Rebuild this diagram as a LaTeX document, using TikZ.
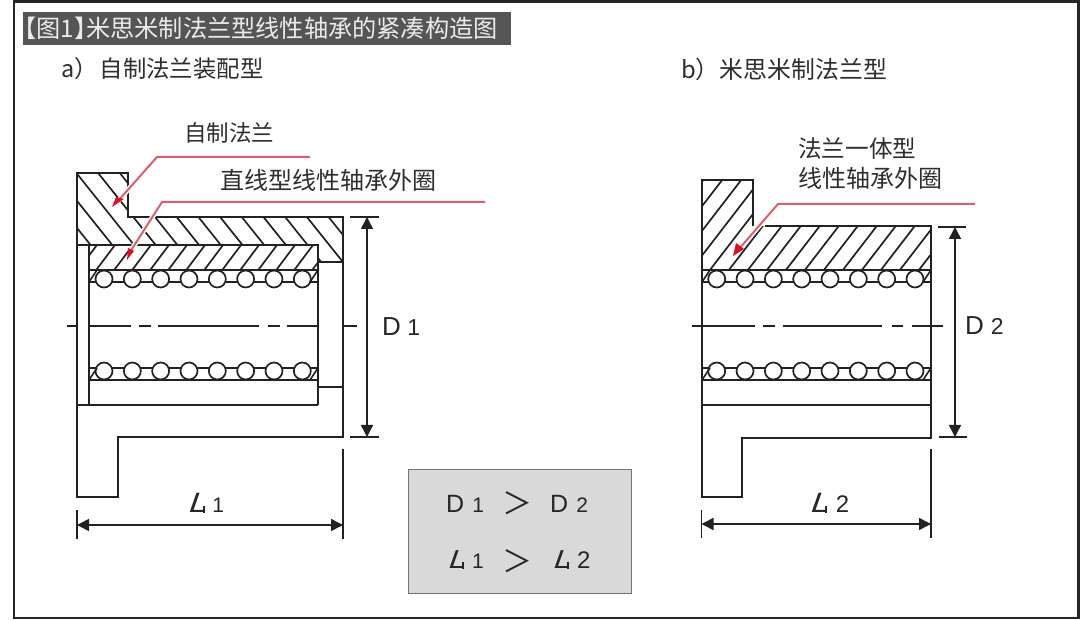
\documentclass[tikz,border=0pt]{standalone}
\usepackage{fontspec}
\setmainfont{Liberation Sans}
\newfontfamily\cjk{Noto Sans CJK SC}
\newfontfamily\slantfont[FakeSlant=0.35,FakeStretch=1.18]{Liberation Sans}
\usetikzlibrary{arrows.meta}
\definecolor{ink}{HTML}{222222}
\definecolor{txt}{HTML}{2E2E2E}
\definecolor{leader}{HTML}{DC5F6C}
\definecolor{leadtip}{HTML}{DD1122}
\definecolor{titlebg}{HTML}{555555}
\definecolor{boxbg}{HTML}{D9D9D9}
\newcommand{\fs}[1]{\fontsize{#1}{#1}\selectfont}
\newcommand{\LL}{{\slantfont L}\kern-0.08em\rule{0.07em}{0.25em}}
\tikzset{
  x=1pt,y=-1pt,
  outl/.style={draw=ink,line width=1.8pt,line join=miter},
  thick2/.style={draw=ink,line width=2.3pt},
  hatch/.style={draw=ink,line width=1.7pt},
  thin2/.style={draw=ink,line width=1.6pt},
  ball/.style={draw=ink,line width=1.7pt,fill=white},
  centre/.style={draw=ink,line width=1.7pt},
  dimarrow/.style={draw=ink,line width=1.5pt,{Triangle[length=12pt,width=12pt]}-{Triangle[length=12pt,width=12pt]}},
  halo/.style={draw=white,line width=5pt},
  lead/.style={draw=leader,line width=2pt},
  tip/.style={fill=leadtip,draw=none},
  label/.style={text=txt,inner sep=0pt,font=\cjk},
  latin/.style={text=black!85,inner sep=0pt,anchor=west},
}
\begin{document}
\begin{tikzpicture}
\useasboundingbox (0,0) rectangle (1080,620);
\fill[white] (0,0) rectangle (1080,620);
\draw[black!85,line width=2.2pt] (14,1.5) -- (1078.5,1.5) -- (1078.5,618) -- (14,618) -- cycle;
% title
\fill[titlebg] (23,12) rectangle (511,45);
\node[anchor=west,inner sep=0pt,text=white!92!black,font=\cjk\fs{24.2}] (title) at (12,28) {【图1】\kern-12pt 米思米制法兰型线性轴承的紧凑构造图};
\node[anchor=west,label] (suba) at (61,69) {\fs{23.4}a）\hspace{2pt}自制法兰装配型};
\node[anchor=west,label] (subb) at (681,69) {\fs{23.9}b）米思米制法兰型};
% ============ LEFT
\begin{scope}
\clip (77,173) -- (128,173) -- (128,217) -- (343,217) -- (343,262) -- (318,262) -- (318,245) -- (77,245) -- cycle;
\foreach \n in {-6,...,12} \draw[hatch] ({3.1+21.7*\n+0.8*150},150) -- ({3.1+21.7*\n+0.8*280},280);
\end{scope}
\begin{scope}
\clip (89,245) rectangle (318,269);
\foreach \n in {-4,...,14} \draw[hatch] ({298.75+18*\n-0.75*230},230) -- ({298.75+18*\n-0.75*280},280);
\end{scope}
\draw[outl] (77,497) -- (77,173) -- (128,173) -- (128,217) -- (343,217) -- (343,437) -- (118,437) -- (118,497) -- cycle;
\draw[outl] (77,245) -- (318,245) -- (318,405);
\draw[outl] (89,245) -- (89,405);
\draw[outl] (318,262) -- (343,262);
\draw[outl] (318,387) -- (343,387);
\draw[thick2] (77,405) -- (318,405);
\draw[thick2] (89,270) -- (318,270);
\draw[thick2] (89,380) -- (318,380);
% retainers left
\foreach \yy/\ls in {279/282, 371/368} {
  \draw[thin2] (89,\ls) -- (318,\ls);
  \foreach \i in {0,...,7} \draw[ball] ({104+28.33*\i},\yy) circle (8.5);
}
\draw[thin2] (89,282) -- (97,270) (310,282) -- (318,270);
\draw[thin2] (89,380) -- (97,368) (310,380) -- (318,368);
% centre line left
\foreach \a/\b in {67/77,90/131,139/151,158/259,268/280,287/318,343/357}
  \draw[centre] (\a,325.7) -- (\b,325.7);
% leaders left
\coordinate (la1) at (310,157); \coordinate (la2) at (157,157); \coordinate (la3) at (112,207);
\coordinate (lb1) at (485,202); \coordinate (lb2) at (162,202); \coordinate (lb3) at (127,260);
\draw[halo] (la2) -- (118,201);
\draw[halo] (lb2) -- (130,252);
\draw[lead] (la1) -- (la2) -- (118,201);
\draw[lead] (lb1) -- (lb2) -- (130,252);
\fill[tip] (la3) -- (124,199) -- (116,197) -- cycle;
\fill[tip] (lb3) -- (134,251) -- (128,248) -- cycle;
\node[anchor=west,label] (selfflange) at (184,133) {\fs{22.5}自制法兰};
\node[anchor=west,label] (ringa) at (220,180) {\fs{24}直线型线性轴承外圈};
% D1
\coordinate (d1t) at (367,217); \coordinate (d1b) at (367,437);
\draw[thin2] (350,217) -- (379,217);
\draw[thin2] (350,437) -- (379,437);
\draw[dimarrow] (d1t) -- (d1b);
\node[latin] (dlabel1) at (382,327) {\fs{26}D\kern6.5pt\fs{23}1};
% L1
\coordinate (l1l) at (77,525); \coordinate (l1r) at (343,525);
\draw[thin2] (77,510) -- (77,539);
\draw[thin2] (343,449) -- (343,539);
\draw[dimarrow] (l1l) -- (l1r);
\node[latin] (llabel1) at (187,503) {\fs{28}\LL\kern7pt\fs{21}1};
% ============ RIGHT
\begin{scope}
\clip (701.7,180) -- (753,180) -- (753,226) -- (931,226) -- (931,269) -- (701.7,269) -- cycle;
\foreach \n in {-14,...,4} \draw[hatch] ({1107.8+19*\n-0.77*170},170) -- ({1107.8+19*\n-0.77*280},280);
\end{scope}
\draw[outl] (765,226) -- (931,226) -- (931,438) -- (742,438) -- (742,497) -- (701.7,497) -- (701.7,180) -- (753,180) -- (753,226);
\draw[thick2] (701.7,270) -- (931,270);
\draw[thick2] (701.7,380) -- (931,380);
\draw[thick2] (701.7,405) -- (931,405);
\foreach \yy/\ls in {279/282, 371/368} {
  \draw[thin2] (701.7,\ls) -- (931,\ls);
  \foreach \i in {0,...,7} \draw[ball] ({716.7+28.33*\i},\yy) circle (8.5);
}
\draw[thin2] (702,282) -- (710,270) (923,282) -- (931,270);
\draw[thin2] (702,380) -- (710,368) (923,380) -- (931,368);
\foreach \a/\b in {692/755,763/775,783/882,892/903,912/943}
  \draw[centre] (\a,325.7) -- (\b,325.7);
\coordinate (lc1) at (975,204); \coordinate (lc2) at (778,204); \coordinate (lc3) at (733,256);
\draw[halo] (lc2) -- (739,249);
\draw[lead] (lc1) -- (lc2) -- (739,249);
\fill[tip] (lc3) -- (744,249) -- (736,243) -- cycle;
\node[anchor=west,label] (onepiece) at (798,149) {\fs{23.6}法兰一体型};
\node[anchor=west,label] (ringb) at (798,178) {\fs{24}线性轴承外圈};
% D2
\coordinate (d2t) at (955,227); \coordinate (d2b) at (955,437);
\draw[thin2] (938,227) -- (966,227);
\draw[thin2] (939,437) -- (967,437);
\draw[dimarrow] (d2t) -- (d2b);
\node[latin] (dlabel2) at (965,326) {\fs{26}D\kern7pt\fs{23}2};
% L2
\coordinate (l2l) at (701.5,524); \coordinate (l2r) at (931,524);
\draw[thin2] (701.5,510) -- (701.5,538);
\draw[thin2] (931,449) -- (931,538);
\draw[dimarrow] (l2l) -- (l2r);
\node[latin] (llabel2) at (809,503) {\fs{28}\LL\kern8.5pt\fs{24}2};
% ============ BOX
\fill[boxbg,draw=black!55,line width=1pt] (408.5,470) rectangle (631.5,593);
\node[latin] (bd1) at (446,503.5) {\fs{25}D\kern8pt\fs{21}1};
\node[anchor=center,inner sep=0pt,text=black!85,font=\cjk\fs{30}] (bgt1) at (517,503.5) {＞};
\node[latin] (bd2) at (550,503.5) {\fs{25}D\kern8pt\fs{21}2};
\node[latin] (bl1) at (447,560) {\fs{26}\LL\kern8pt\fs{21}1};
\node[anchor=center,inner sep=0pt,text=black!85,font=\cjk\fs{30}] (bgt2) at (517,561) {＞};
\node[latin] (bl2) at (552,560) {\fs{26}\LL\kern8pt\fs{24}2};
\end{tikzpicture}
\end{document}
